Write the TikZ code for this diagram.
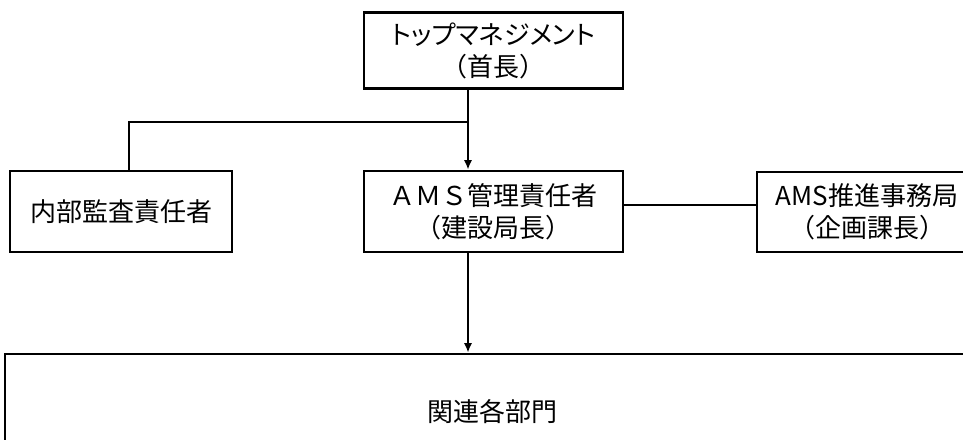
\documentclass[tikz,border=0pt]{standalone}
\usepackage{fontspec}
\newfontfamily\jp{Noto Sans CJK JP}
\newfontfamily\jpp[RawFeature=+palt]{Noto Sans CJK JP}
\usetikzlibrary{arrows.meta}
\tikzset{
  box/.style={draw, line width=2.2pt, inner sep=0pt, align=center,
    font=\jp\fontsize{19.5pt}{24pt}\selectfont},
  conn/.style={line width=1.2pt},
  arr/.style={conn, -{Latex[length=7pt,width=6pt]}},
}
\begin{document}
\begin{tikzpicture}[x=0.75pt,y=-0.75pt]
\useasboundingbox (0,0) rectangle (963,439);
\clip (0,0) rectangle (963,439);
\node[box, minimum width=259*0.75pt, minimum height=76*0.75pt] (top) at (493.5,50.5)
  {{\jpp トップマネジメント}\\（首長）};
\node[box, minimum width=222*0.75pt, minimum height=81*0.75pt] (audit) at (121,211.5)
  {内部監査責任者};
\node[box, minimum width=259*0.75pt, minimum height=81*0.75pt] (ams) at (493.5,211.5)
  {ＡＭＳ管理責任者\\（建設局長）};
\node[box, minimum width=220*0.75pt, minimum height=80*0.75pt] (promo) at (867,212)
  {AMS推進事務局\\（企画課長）};
\node[box, minimum width=975*0.75pt, minimum height=116*0.75pt] (dept) at (492.5,412)
  {関連各部門};
\coordinate (j) at (468,122);
\coordinate (h) at (0,205);
\draw[arr] (top.south -| j) -- (ams.north -| j);
\draw[conn] (j) -| ([xshift=8*0.75pt]audit.north);
\draw[conn] (ams.east |- h) -- (promo.west |- h);
\draw[arr] (ams.south -| j) -- (dept.north -| j);
\end{tikzpicture}
\end{document}
